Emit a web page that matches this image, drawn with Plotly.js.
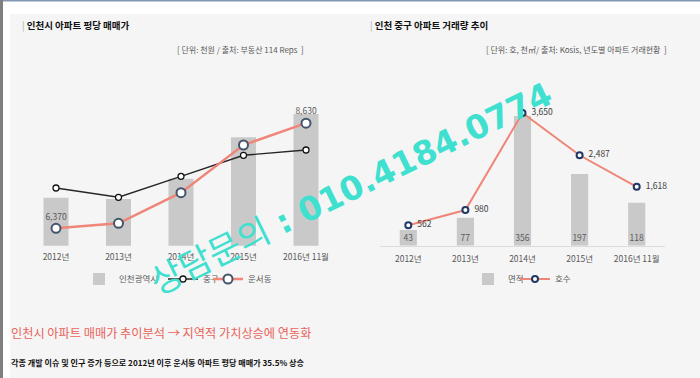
<!DOCTYPE html>
<html><head><meta charset="utf-8">
<script src="https://cdn.plot.ly/plotly-3.0.1.min.js"></script>
<style>html,body{margin:0;padding:0;background:#fff}#c{width:700px;height:378px}</style>
</head><body><div id="c"></div>
<script>
// ---- data ----
const years = ['2012년','2013년','2014년','2015년','2016년 11월'];
const incheonAvg = [7028, 7000, 7436, 8327, 8828];
const junggu = [7237, 7037, 7488, 7940, 8054];
const unseo = [6370, 6478, 7136, 8161, 8630];
const unseoLabels = ['6,370','','','','8,630'];
const area = [43, 77, 356, 197, 118];
const units = [562, 980, 3650, 2487, 1618];
const unitLabels = ['562','980','3,650','2,487','1,618'];

const W = 700, H = 378;
const px = x => x / W, py = y => 1 - y / H;
const F = '"Noto Sans CJK KR", "Noto Sans", sans-serif';
const gray = '#595959';
const barCol = '#c9c9c9';
const salmon = '#ef8677';

const traces = [
  {type:'bar', x: years, y: incheonAvg, name:'인천광역시', xaxis:'x', yaxis:'y',
   marker:{color:barCol}, width:0.4, legend:'legend', hoverinfo:'skip'},
  {type:'scatter', mode:'lines+markers', x: years, y: junggu, name:'중구', xaxis:'x', yaxis:'y',
   line:{color:'#262626', width:1.4}, marker:{symbol:'circle', size:6, color:'#fff', line:{color:'#111', width:1.3}},
   legend:'legend2'},
  {type:'scatter', mode:'lines+markers+text', x: years, y: unseo, name:'운서동', xaxis:'x', yaxis:'y',
   text: unseoLabels, textposition:'top center', textfont:{family:F, size:8.5, color:gray}, cliponaxis:false,
   line:{color:salmon, width:2.5}, marker:{symbol:'circle', size:9, color:'#fff', line:{color:'#44546a', width:2}},
   legend:'legend3'},
  {type:'bar', x: years, y: area, name:'면적', xaxis:'x2', yaxis:'y3',
   marker:{color:barCol}, width:0.3, text: area.map(String), textposition:'inside', insidetextanchor:'start',
   textangle:0, textfont:{family:F, size:8.5, color:gray}, constraintext:'none', legend:'legend4'},
  {type:'scatter', mode:'lines+markers+text', x: years, y: units, name:'호수', xaxis:'x2', yaxis:'y4',
   text: unitLabels, texttemplate:'\u2002%{text}', textposition:'middle right', cliponaxis:false,
   textfont:{family:F, size:8.5, color:'#404040'},
   line:{color:salmon, width:2}, marker:{symbol:'circle', size:6, color:'#fff', line:{color:'#1f3864', width:2}},
   legend:'legend5'}
];

const yTop = 75, yBase = 245.7;
const dom = [py(yBase), py(yTop)];
const hiddenY = {showgrid:false, zeroline:false, showticklabels:false, showline:false, ticks:''};
const leg = x0 => ({orientation:'h', x:px(x0), y:py(279), xanchor:'left', yanchor:'middle',
  font:{family:F, size:8.5, color:gray}, bgcolor:'rgba(0,0,0,0)', borderwidth:0, itemwidth:30});

const layout = {
  width: W, height: H,
  margin:{l:0,r:0,t:0,b:0},
  paper_bgcolor:'#ffffff', plot_bgcolor:'rgba(0,0,0,0)',
  font:{family:F, color:gray},
  barmode:'overlay',
  xaxis:{domain:[px(24.75), px(337.25)], range:[-0.5,4.5], type:'category', showgrid:false, zeroline:false,
         showline:false, ticks:'', tickfont:{family:F, size:8.5, color:gray}, ticklabelstandoff:5, fixedrange:true},
  yaxis:Object.assign({domain:dom, range:[5996, 5996 + (yBase-yTop)*21.5], anchor:'x'}, hiddenY),
  xaxis2:{domain:[px(379.75), px(665.25)], range:[-0.5,4.5], type:'category', showgrid:false, zeroline:false,
          showline:true, linecolor:'#dcdcdc', linewidth:1.5, ticks:'', tickfont:{family:F, size:8.5, color:gray},
          ticklabelstandoff:5, anchor:'y3'},
  yaxis3:Object.assign({domain:dom, range:[0, (yBase-yTop)*2.744], anchor:'x2'}, hiddenY),
  yaxis4:Object.assign({domain:dom, range:[0, (yBase-yTop)*27.5], anchor:'x2', overlaying:'y3'}, hiddenY),
  showlegend:true,
  legend:leg(79), legend2:leg(163), legend3:leg(208), legend4:leg(468), legend5:leg(515),
  shapes:[
    {type:'rect', xref:'paper', yref:'paper', x0:px(10), x1:1, y0:0, y1:py(14), fillcolor:'#f5f5f5', line:{width:0}, layer:'below'},
    {type:'line', xref:'paper', yref:'paper', x0:0, x1:1, y0:py(0.7), y1:py(0.7), line:{color:'#8497b0', width:1.5}},
    {type:'line', xref:'paper', yref:'paper', x0:px(1.5), x1:px(1.5), y0:0, y1:1, line:{color:'#7f7f7f', width:3}}
  ],
  annotations:[
    {xref:'paper', yref:'paper', x:px(20), y:py(25), xanchor:'left', yanchor:'middle', showarrow:false,
     text:"<span style='color:#aaaaaa'>|</span> <b>인천시 아파트 평당 매매가</b>", font:{family:F, size:9.5, color:'#111'}},
    {xref:'paper', yref:'paper', x:px(368), y:py(25), xanchor:'left', yanchor:'middle', showarrow:false,
     text:"<span style='color:#aaaaaa'>|</span> <b>인천 중구 아파트 거래량 추이</b>", font:{family:F, size:9.5, color:'#111'}},
    {xref:'paper', yref:'paper', x:px(306), y:py(49), xanchor:'right', yanchor:'middle', showarrow:false,
     text:'[ 단위: 천원 / 출처: 부동산 114 Reps  ]', font:{family:F, size:8, color:gray}},
    {xref:'paper', yref:'paper', x:px(669), y:py(49), xanchor:'right', yanchor:'middle', showarrow:false,
     text:'[ 단위: 호, 천㎡/ 출처: Kosis, 년도별 아파트 거래현황  ]', font:{family:F, size:8, color:gray}},
    {xref:'paper', yref:'paper', x:px(9), y:py(333), xanchor:'left', yanchor:'middle', showarrow:false,
     text:'인천시 아파트 매매가 추이분석 → 지역적 가치상승에 연동화', font:{family:F, size:12.2, color:'#e8625a'}},
    {xref:'paper', yref:'paper', x:px(9), y:py(362), xanchor:'left', yanchor:'middle', showarrow:false,
     text:'<b>각종 개발 이슈 및 인구 증가 등으로 2012년 이후 운서동 아파트 평당 매매가 35.5% 상승</b>', font:{family:F, size:8.1, color:'#111'}},
    {xref:'paper', yref:'paper', x:px(351), y:py(188), xanchor:'center', yanchor:'middle', showarrow:false,
     textangle:-26, text:'<span style="font-size:35px">상담문의</span> <b>: 010.4184.0774</b>', font:{family:'"DejaVu Sans", "Noto Sans CJK KR", sans-serif', size:33, color:'#3fe0cf'}}
  ]
};

Plotly.newPlot('c', traces, layout, {staticPlot:true, displayModeBar:false});
</script></body></html>
